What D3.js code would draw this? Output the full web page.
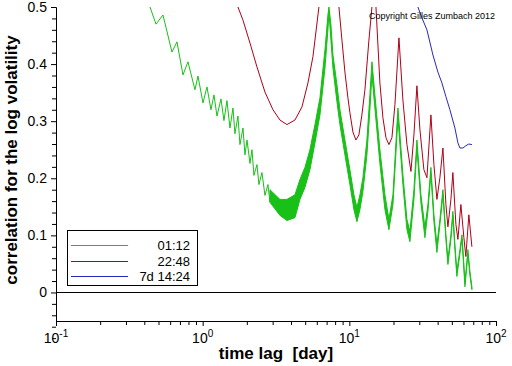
<!DOCTYPE html>
<html><head><meta charset="utf-8">
<script src="https://cdn.jsdelivr.net/npm/d3@7"></script>
<style>body{margin:0;background:#fff}svg{display:block}text{font-family:"Liberation Sans",Arial,Helvetica,sans-serif}</style>
</head><body><svg id="c" width="512" height="366"></svg>
<script>
// ---- data (lag in days, correlation) ----
// 01:12 sampling, low lags where the intraday oscillation is resolved
const greenLag = [0.4375,0.4806,0.5363,0.6175,0.668,0.734,0.794,0.886,0.929,1.005,1.070,1.139,1.194,1.252,1.333,1.397,1.464,1.535,1.609,1.66,1.740,1.796,1.883,1.943,2.006,2.101,2.168,2.237,2.345,2.419,2.536,2.659,2.787,2.876];
const greenVal = [0.500,0.470,0.486,0.421,0.439,0.381,0.404,0.355,0.379,0.332,0.360,0.320,0.346,0.309,0.339,0.301,0.336,0.288,0.323,0.278,0.309,0.259,0.288,0.241,0.267,0.226,0.250,0.205,0.224,0.189,0.210,0.170,0.189,0.158];
// 01:12 sampling, larger lags: dense oscillation, upper and lower envelope
const bandLag = [2.876,3.365,3.754,4.258,4.606,4.982,5.387,5.829,6.305,6.820,7.146,7.261,7.491,7.731,8.233,8.628,9.333,10.09,10.75,11.27,11.81,12.38,13.18,13.81,14.26,14.94,16.16,17.49,18.62,19.83,21.45,23.19,24.70,25.89,27.57,28.89,30.77,32.76,34.34,35.99,37.73,39.55,41.45,43.46,45.55,47.0,49.27,50.8,52.46,54.1,56.75,58.6,60.4,61.4,63.3,64.3,66.4,68.5];
const bandHi = [0.180,0.163,0.163,0.171,0.198,0.219,0.250,0.294,0.341,0.425,0.486,0.500,0.469,0.416,0.364,0.320,0.267,0.215,0.171,0.149,0.171,0.201,0.267,0.346,0.404,0.346,0.250,0.171,0.128,0.171,0.323,0.206,0.128,0.107,0.180,0.267,0.171,0.114,0.154,0.219,0.136,0.084,0.128,0.180,0.101,0.058,0.101,0.142,0.084,0.037,0.075,0.101,0.049,0.017,0.054,0.075,0.037,0.010];
const bandLo = [0.158,0.135,0.126,0.131,0.163,0.184,0.215,0.262,0.311,0.393,0.460,0.491,0.442,0.393,0.334,0.294,0.241,0.189,0.145,0.124,0.145,0.177,0.241,0.320,0.381,0.323,0.226,0.145,0.110,0.154,0.306,0.189,0.110,0.089,0.163,0.253,0.157,0.096,0.142,0.208,0.124,0.070,0.119,0.171,0.093,0.049,0.093,0.135,0.075,0.028,0.068,0.094,0.040,0.010,0.047,0.068,0.030,0.005];
// 22:48 sampling
const redLag = [1.740,1.883,2.101,2.345,2.659,3.015,3.365,3.754,4.258,4.753,5.222,5.648,6.206,7.261,8.494,8.905,9.333,9.78,10.09,10.58,11.09,11.62,12.18,12.77,13.6,14.26,14.72,15.19,16.16,16.94,17.77,18.62,19.52,20.46,21.79,23.19,24.70,26.30,27.57,28.89,30.29,32.24,33.81,35.99,37.73,39.55,41.45,43.46,45.55,47.0,49.27,50.8,53.3,55.0,57.6,60.4,62.3,65.3,68.5];
const redVal = [0.500,0.477,0.437,0.395,0.351,0.320,0.302,0.294,0.302,0.325,0.367,0.413,0.500,0.620,0.500,0.442,0.386,0.341,0.315,0.281,0.267,0.276,0.311,0.355,0.442,0.500,0.530,0.500,0.367,0.306,0.271,0.259,0.271,0.329,0.446,0.337,0.259,0.212,0.276,0.362,0.285,0.215,0.201,0.311,0.224,0.163,0.201,0.253,0.154,0.115,0.163,0.210,0.119,0.093,0.154,0.096,0.063,0.136,0.080];
// 7d 14:24 sampling
const blueLag = [29.35,31.25,33.81,37.15,40.18,42.78,45.55,48.5,52.46,55.0,56.75,59.5,62.3,65.3,68.5];
const blueVal = [0.500,0.481,0.460,0.416,0.386,0.367,0.343,0.320,0.288,0.262,0.253,0.253,0.257,0.260,0.259];

const legendLabels = ["01:12","22:48","7d 14:24"];
const colors = ["#18c018","#b00018","#2828b8"];
const yMajorTicks = [0,0.1,0.2,0.3,0.4,0.5];
const yTickLabels = ["0","0.1","0.2","0.3","0.4","0.5"];
const xMajorTicks = [0.1,1,10,100];
const xExponents = ["-1","0","1","2"];

// ---- layout ----
const L = 56, R = 496, T = 7, B = 321;
const svg = d3.select("#c");
const x = d3.scaleLog().domain([0.1,100]).range([L,R]);
const y = d3.scaleLinear().domain([-0.05,0.5]).range([B,T]);

svg.append("defs").append("clipPath").attr("id","clip")
  .append("rect").attr("x",L).attr("y",T).attr("width",R-L).attr("height",B-T);

// zero line
svg.append("line").attr("x1",L).attr("x2",R).attr("y1",y(0)).attr("y2",y(0))
  .attr("stroke","#000").attr("stroke-width",1).attr("shape-rendering","crispEdges");

const plot = svg.append("g").attr("clip-path","url(#clip)");
const line = d3.line().x(d=>x(d[0])).y(d=>y(d[1]));
const zip = (a,b)=>a.map((v,i)=>[v,b[i]]);

// green band
const band = bandLag.map((v,i)=>({t:v,hi:bandHi[i],lo:bandLo[i]}));
plot.append("path").datum(band)
  .attr("d", d3.area().x(d=>x(d.t)).y0(d=>y(d.lo)).y1(d=>y(d.hi)))
  .attr("fill",colors[0]).attr("stroke",colors[0]).attr("stroke-width",1);
plot.append("path").datum(zip(greenLag,greenVal)).attr("d",line)
  .attr("fill","none").attr("stroke",colors[0]).attr("stroke-width",1);
plot.append("path").datum(zip(redLag,redVal)).attr("d",line)
  .attr("fill","none").attr("stroke",colors[1]).attr("stroke-width",1);
plot.append("path").datum(zip(blueLag,blueVal)).attr("d",line)
  .attr("fill","none").attr("stroke",colors[2]).attr("stroke-width",1);

// axes
const xMinor = x.ticks().filter(v=>!xMajorTicks.some(m=>Math.abs(m-v)<1e-9));
const gx = svg.append("g").attr("transform",`translate(0,${B})`);
gx.call(d3.axisBottom(x).tickValues(xMinor).tickSize(4).tickSizeOuter(0).tickFormat(""));
const gx2 = svg.append("g").attr("transform",`translate(0,${B})`);
gx2.call(d3.axisBottom(x).tickValues(xMajorTicks).tickSize(5).tickSizeOuter(0).tickFormat(""));

xMajorTicks.forEach((v,i)=>{
  const t = svg.append("text").attr("x",x(v)).attr("y",343).attr("text-anchor","middle")
    .attr("font-size",14).attr("fill","#000");
  t.append("tspan").text("10");
  t.append("tspan").attr("dy",-6).attr("font-size",10).text(xExponents[i]);
});

const yMinor = d3.range(-4,26,1).map(k=>k*0.02).filter(v=>Math.abs(v*10-Math.round(v*10))>1e-6);
const gy = svg.append("g").attr("transform",`translate(${L},0)`);
gy.call(d3.axisLeft(y).tickValues(yMinor).tickSize(4).tickSizeOuter(0).tickFormat(""));
const gy2 = svg.append("g").attr("transform",`translate(${L},0)`);
gy2.call(d3.axisLeft(y).tickValues(yMajorTicks).tickSize(5).tickSizeOuter(0).tickPadding(4)
  .tickFormat((d,i)=>yTickLabels[i]));
gy2.selectAll("text").attr("font-size",14).attr("font-family",null).attr("fill","#000");
svg.selectAll(".domain").attr("stroke","#000");
svg.selectAll(".tick line").attr("stroke","#000");

// titles
svg.append("text").attr("x",276).attr("y",359).attr("text-anchor","middle")
  .attr("font-size",17).attr("font-weight","bold").style("white-space","pre").text("time lag  [day]");
svg.append("text").attr("transform","translate(17,160) rotate(-90)").attr("text-anchor","middle")
  .attr("font-size",17).attr("font-weight","bold").text("correlation for the log volatility");
svg.append("text").attr("x",369).attr("y",19).attr("font-size",9).text("Copyright Gilles Zumbach 2012");

// legend
const lg = svg.append("g");
lg.append("rect").attr("x",67.5).attr("y",230.5).attr("width",130).attr("height",55)
  .attr("fill","#fff").attr("stroke","#000");
const rowsY = [245,261,276];
legendLabels.forEach((s,i)=>{
  lg.append("line").attr("x1",71).attr("x2",128).attr("y1",rowsY[i]+0.5).attr("y2",rowsY[i]+0.5)
    .attr("stroke",colors[i]).attr("stroke-width",1);
  lg.append("text").attr("x",190).attr("y",rowsY[i]+5).attr("text-anchor","end")
    .attr("font-size",13).text(s);
});
</script></body></html>
